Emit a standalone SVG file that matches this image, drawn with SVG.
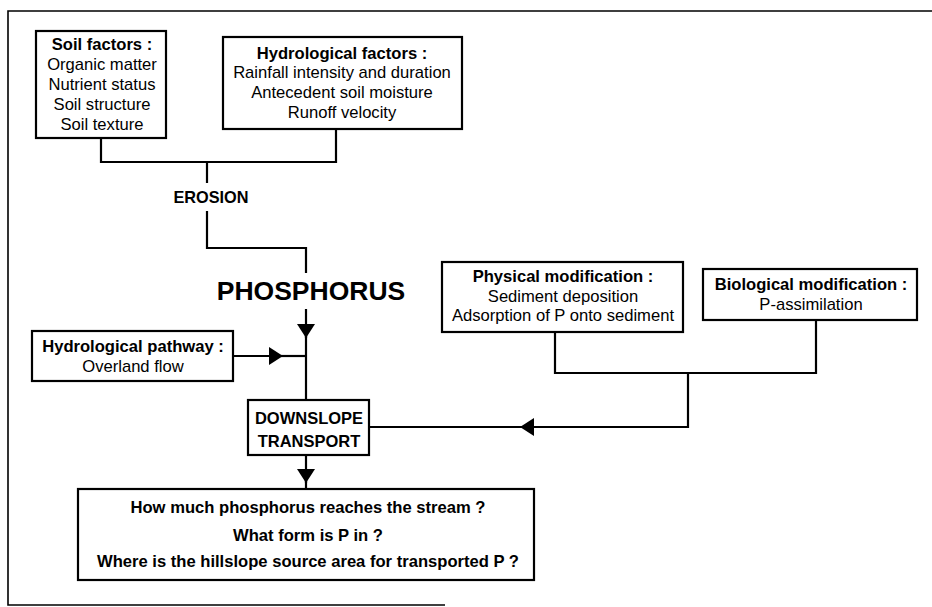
<svg xmlns="http://www.w3.org/2000/svg" width="932" height="607" viewBox="0 0 932 607">
<style>
.box{fill:#fff;stroke:#000;stroke-width:2.2}
.ln{fill:none;stroke:#000;stroke-width:2.2}
.frame{fill:none;stroke:#000;stroke-width:1.6}
text{font-family:"Liberation Sans",Arial,Helvetica,sans-serif;fill:#000;text-anchor:middle}
.t{font-size:16.6px}
.b{font-size:16.6px;font-weight:bold}
.big{font-size:26.5px;font-weight:bold}
.q{font-size:16.6px;font-weight:bold}
</style>
<defs>
<marker id="ah" markerUnits="userSpaceOnUse" viewBox="0 0 14 18" refX="14" refY="9" markerWidth="14" markerHeight="18" orient="auto">
<path d="M0,0 L14,9 L0,18 z" fill="#000"/>
</marker>
</defs>
<rect width="932" height="607" fill="#fff"/>
<g id="frame">
<path class="frame" d="M932,11 L8,11 L8,605 L445,605"/>
</g>
<g id="connectors">
<path class="ln" d="M101,138 L101,162 L336,162 L336,129"/>
<path class="ln" d="M207,162 L207,183"/>
<path class="ln" d="M207,211 L207,248 L306,248 L306,273"/>
<path class="ln" d="M306,309 L306,338" marker-end="url(#ah)"/>
<path class="ln" d="M306,336 L306,400"/>
<path class="ln" d="M233,356 L283,356" marker-end="url(#ah)"/>
<path class="ln" d="M281,356 L306,356"/>
<path class="ln" d="M306,455 L306,483" marker-end="url(#ah)"/>
<path class="ln" d="M306,481 L306,489"/>
<path class="ln" d="M555,332 L555,373 L816,373 L816,320"/>
<path class="ln" d="M688,373 L688,427 L520,427" marker-end="url(#ah)"/>
<path class="ln" d="M523,427 L369,427"/>
</g>
<g id="soil-factors">
<rect class="box" x="36" y="31" width="130" height="107"/>
<text class="b" x="102" y="50">Soil factors :</text>
<text class="t" x="102" y="70">Organic matter</text>
<text class="t" x="102" y="90">Nutrient status</text>
<text class="t" x="102" y="110">Soil structure</text>
<text class="t" x="102" y="130">Soil texture</text>
</g>
<g id="hydrological-factors">
<rect class="box" x="223" y="37" width="239" height="92"/>
<text class="b" x="342" y="59">Hydrological factors :</text>
<text class="t" x="342" y="78">Rainfall intensity and duration</text>
<text class="t" x="342" y="98">Antecedent soil moisture</text>
<text class="t" x="342" y="118">Runoff velocity</text>
</g>
<g id="erosion">
<text class="b" x="211" y="203" style="font-size:16.3px">EROSION</text>
</g>
<g id="phosphorus">
<text class="big" x="311" y="300">PHOSPHORUS</text>
</g>
<g id="hydrological-pathway">
<rect class="box" x="32" y="331" width="201" height="50"/>
<text class="b" x="133" y="352">Hydrological pathway :</text>
<text class="t" x="133" y="372">Overland flow</text>
</g>
<g id="downslope-transport">
<rect class="box" x="248" y="400" width="121" height="55"/>
<text class="b" x="309" y="424" style="font-size:16.5px">DOWNSLOPE</text>
<text class="b" x="309" y="447" style="font-size:16.5px">TRANSPORT</text>
</g>
<g id="questions">
<rect class="box" x="78" y="489" width="456" height="91"/>
<text class="q" x="308" y="513">How much phosphorus reaches the stream ?</text>
<text class="q" x="308" y="541">What form is P in ?</text>
<text class="q" x="308" y="567">Where is the hillslope source area for transported P ?</text>
</g>
<g id="physical-modification">
<rect class="box" x="442" y="262" width="241" height="70"/>
<text class="b" x="563" y="282">Physical modification :</text>
<text class="t" x="563" y="302">Sediment deposition</text>
<text class="t" x="563" y="321">Adsorption of P onto sediment</text>
</g>
<g id="biological-modification">
<rect class="box" x="703" y="269" width="214" height="51"/>
<text class="b" x="811" y="290">Biological modification :</text>
<text class="t" x="811" y="310">P-assimilation</text>
</g>
</svg>
